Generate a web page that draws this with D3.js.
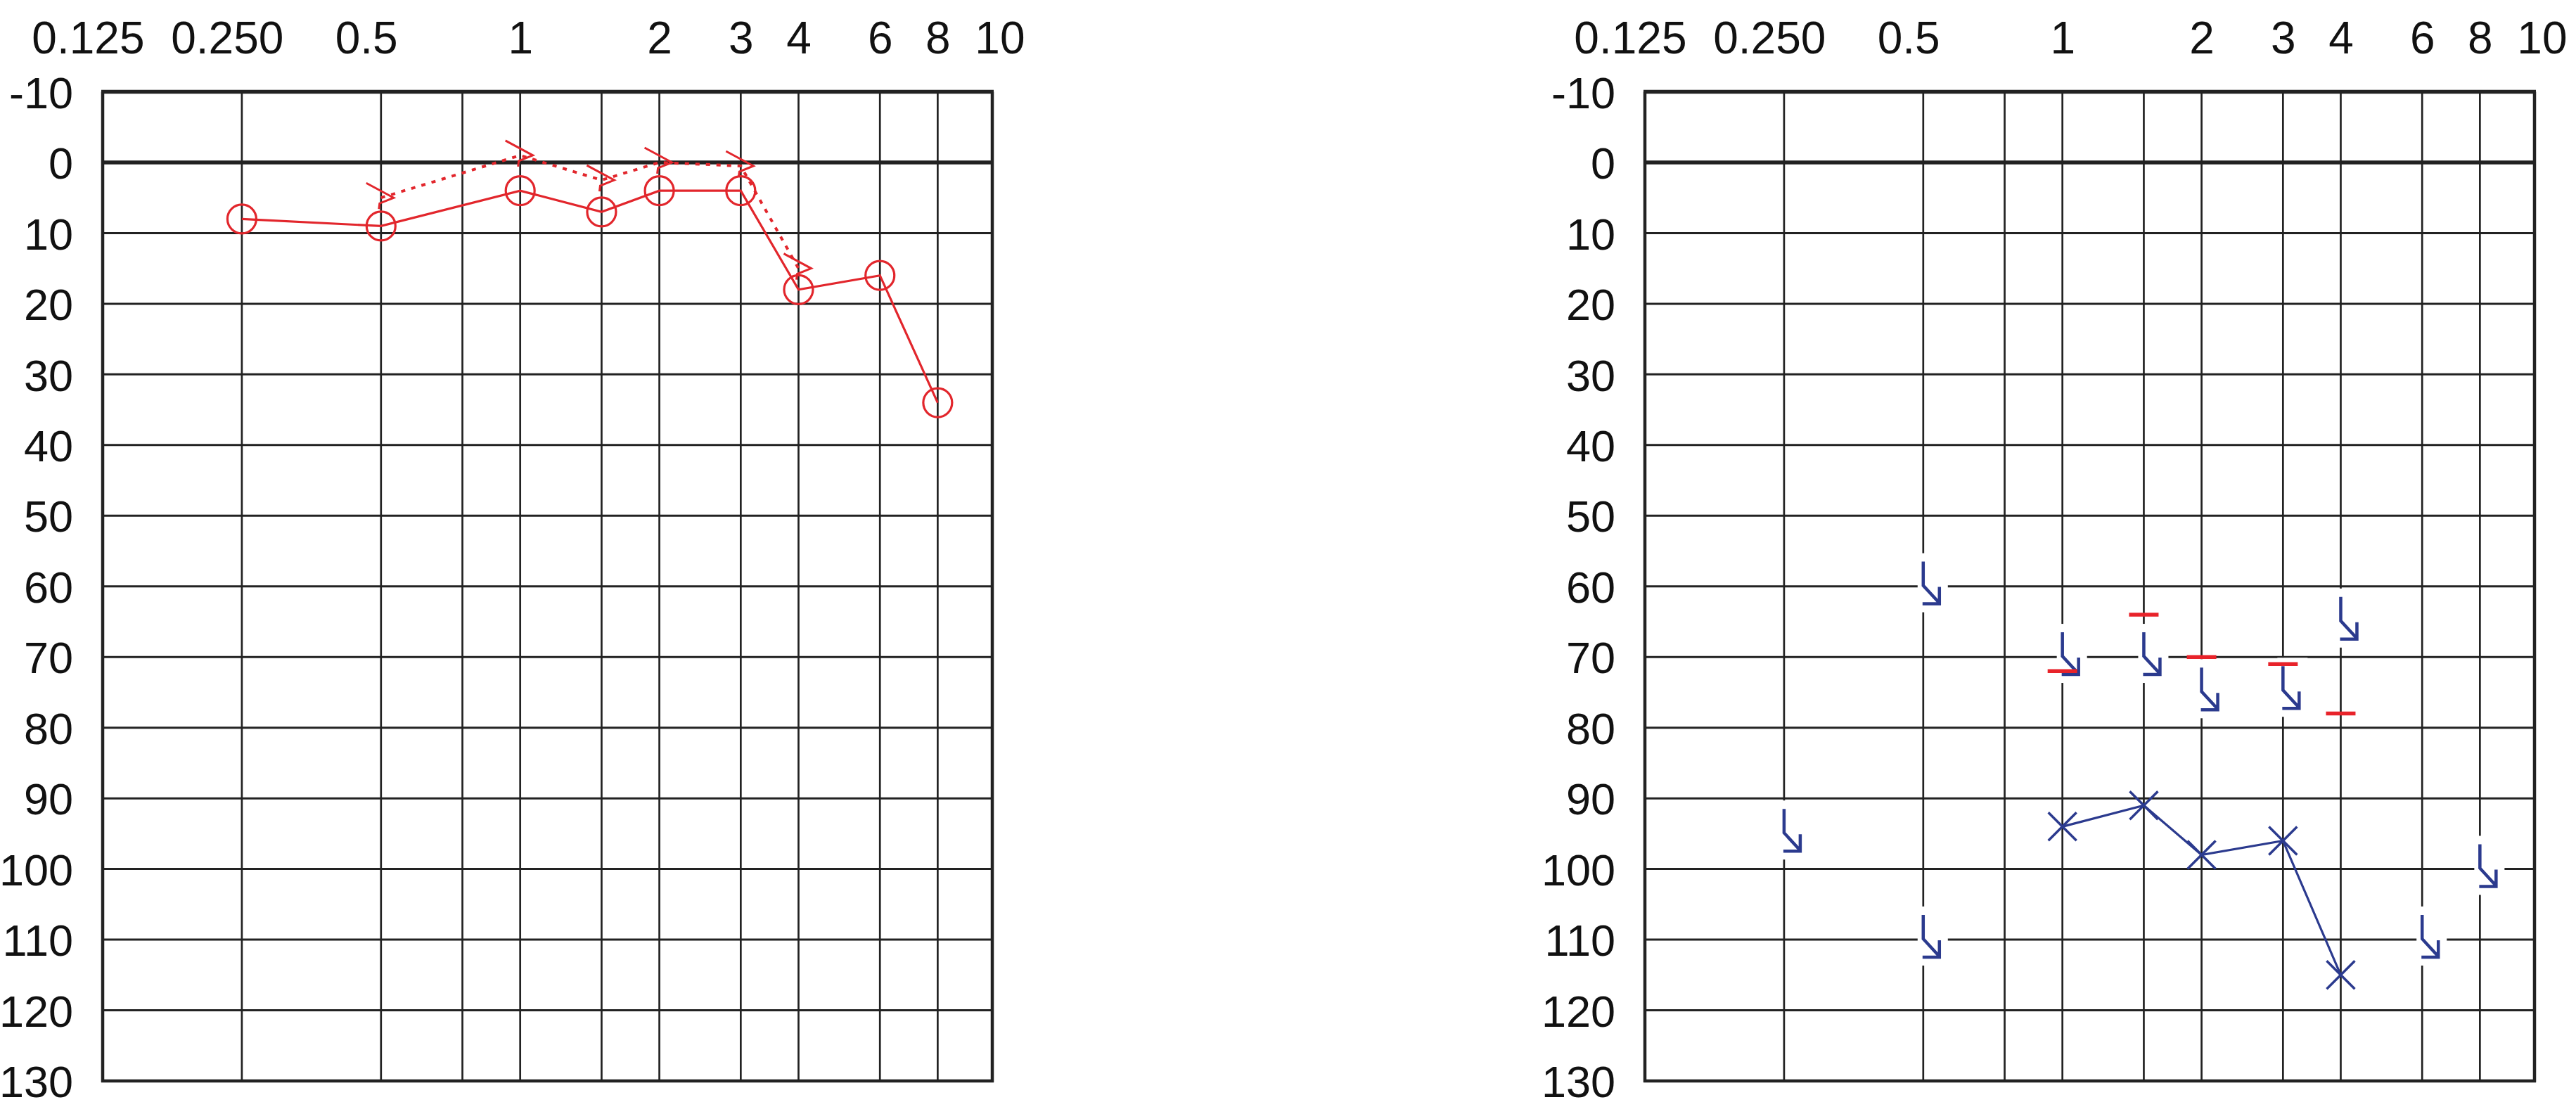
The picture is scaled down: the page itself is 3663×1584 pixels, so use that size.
<!DOCTYPE html>
<html>
<head>
<meta charset="utf-8">
<script src="https://cdn.jsdelivr.net/npm/d3@7"></script>
<style>
html, body { margin: 0; padding: 0; background: #ffffff; }
svg { display: block; }
</style>
</head>
<body>
<svg id="chart" width="3663" height="1584"></svg>
<script>
// ---------- axis data ----------
const frequencyTicks = [125, 250, 500, 1000, 2000, 3000, 4000, 6000, 8000, 10000];
const frequencyTickLabels = ["0.125", "0.250", "0.5", "1", "2", "3", "4", "6", "8", "10"];
const frequencyGridLines = [250, 500, 750, 1000, 1500, 2000, 3000, 4000, 6000, 8000];
const levelTicks = [-10, 0, 10, 20, 30, 40, 50, 60, 70, 80, 90, 100, 110, 120, 130];

// ---------- left panel (red) ----------
const redAirFreq = [250, 500, 1000, 1500, 2000, 3000, 4000, 6000, 8000];
const redAirDb   = [8, 9, 4, 7, 4, 4, 18, 16, 34];
const redBoneFreq = [500, 1000, 1500, 2000, 3000, 4000];
const redBoneDb   = [5, -1, 2.5, 0, 0.5, 15];

// ---------- right panel (blue + red masking marks) ----------
const blueAirFreq = [1000, 1500, 2000, 3000, 4000];
const blueAirDb   = [94, 91, 98, 96, 115];
const blueNoRespFreq = [250, 500, 500, 1000, 1500, 2000, 3000, 4000, 6000, 8000];
const blueNoRespDb   = [91.5, 56.5, 106.5, 66.5, 66.5, 71.5, 71.3, 61.5, 106.5, 96.5];
const redMarkFreq = [1000, 1500, 2000, 3000, 4000];
const redMarkDb   = [72, 64, 70, 71, 78];

// ---------- drawing ----------
const svg = d3.select("#chart");
const RED = "#e2262c";
const BLUE = "#2b3a8e";
const GRID = "#222222";
const FONT = "'Liberation Sans', Arial, Helvetica, sans-serif";

const y = d3.scaleLinear().domain([-10, 130]).range([130.5, 1537]);
const panelWidth = 1265;

function makePanel(left) {
  const x = d3.scaleLog().domain([125, 10500]).range([left, left + panelWidth]);
  const g = svg.append("g");
  const [x0, x1] = x.range();
  const [yTop, yBot] = y.range();

  // horizontal grid
  g.append("g").selectAll("line")
    .data(levelTicks.filter(d => d !== -10 && d !== 130))
    .join("line")
    .attr("x1", x0).attr("x2", x1)
    .attr("y1", d => y(d)).attr("y2", d => y(d))
    .attr("stroke", GRID)
    .attr("stroke-width", d => d === 0 ? 5.5 : 3);

  // vertical grid
  g.append("g").selectAll("line")
    .data(frequencyGridLines)
    .join("line")
    .attr("x1", d => x(d)).attr("x2", d => x(d))
    .attr("y1", yTop).attr("y2", yBot)
    .attr("stroke", GRID)
    .attr("stroke-width", 2.7);

  // frame
  g.append("line").attr("x1", x0 - 2).attr("x2", x1 + 2).attr("y1", yTop).attr("y2", yTop)
    .attr("stroke", GRID).attr("stroke-width", 5.5);
  g.append("line").attr("x1", x0 - 2).attr("x2", x1 + 2).attr("y1", yBot).attr("y2", yBot)
    .attr("stroke", GRID).attr("stroke-width", 4.5);
  g.append("line").attr("x1", x0).attr("x2", x0).attr("y1", yTop).attr("y2", yBot + 2)
    .attr("stroke", GRID).attr("stroke-width", 4.5);
  g.append("line").attr("x1", x1).attr("x2", x1).attr("y1", yTop).attr("y2", yBot + 2)
    .attr("stroke", GRID).attr("stroke-width", 4.5);

  // top axis labels (kHz)
  const top = g.append("g")
    .attr("transform", "translate(0,76)")
    .call(d3.axisTop(x).tickValues(frequencyTicks)
      .tickFormat((d, i) => frequencyTickLabels[i]).tickSize(0).tickPadding(0));
  top.select(".domain").remove();
  top.selectAll("text")
    .attr("font-family", FONT).attr("font-size", 64).attr("fill", "#111")
    .attr("dy", 0)
    .attr("dx", (d, i) => frequencyTickLabels[i].includes(".") ? "-0.33em"
                          : (d === 10000 ? "0.38em" : "0em"));

  // left axis labels (dB)
  const leftAxis = g.append("g")
    .attr("transform", `translate(${x0},0)`)
    .call(d3.axisLeft(y).tickValues(levelTicks)
      .tickFormat(d => String(d)).tickSize(0).tickPadding(42));
  leftAxis.select(".domain").remove();
  leftAxis.selectAll("text")
    .attr("font-family", FONT).attr("font-size", 63).attr("fill", "#111")
    .attr("dy", "0.36em");

  return { g, x };
}

// ===== Left panel =====
const L = makePanel(146);
{
  const { g, x } = L;
  const bone = redBoneFreq.map((f, i) => [x(f), y(redBoneDb[i])]);
  g.append("path")
    .attr("d", d3.line()(bone))
    .attr("fill", "none").attr("stroke", RED)
    .attr("stroke-width", 4).attr("stroke-dasharray", "6,9");
  g.append("g").selectAll("path")
    .data(bone).join("path")
    .attr("transform", d => `translate(${d[0]},${d[1]})`)
    .attr("d", "M-21,-21L18,0L-2,8L-3,16")
    .attr("fill", "none").attr("stroke", RED).attr("stroke-width", 3)
    .attr("stroke-linejoin", "miter");

  const air = redAirFreq.map((f, i) => [x(f), y(redAirDb[i])]);
  g.append("path")
    .attr("d", d3.line()(air))
    .attr("fill", "none").attr("stroke", RED).attr("stroke-width", 3.2);
  g.append("g").selectAll("circle")
    .data(air).join("circle")
    .attr("cx", d => d[0]).attr("cy", d => d[1]).attr("r", 20.5)
    .attr("fill", "none").attr("stroke", RED).attr("stroke-width", 3.2);
}

// ===== Right panel =====
const R = makePanel(2339);
{
  const { g, x } = R;
  const nr = blueNoRespFreq.map((f, i) => [x(f), y(blueNoRespDb[i])]);
  // white knock-out behind the no-response symbols
  g.append("g").selectAll("rect")
    .data(nr).join("rect")
    .attr("x", d => d[0] - 8).attr("y", d => d[1] - 12)
    .attr("width", 43).attr("height", 84)
    .attr("fill", "#ffffff");

  const air = blueAirFreq.map((f, i) => [x(f), y(blueAirDb[i])]);
  g.append("path")
    .attr("d", d3.line()(air))
    .attr("fill", "none").attr("stroke", BLUE).attr("stroke-width", 3.2);
  g.append("g").selectAll("path")
    .data(air).join("path")
    .attr("transform", d => `translate(${d[0]},${d[1]})`)
    .attr("d", "M-20,-20L20,20M-20,20L20,-20")
    .attr("fill", "none").attr("stroke", BLUE).attr("stroke-width", 3.5);

  g.append("g").selectAll("path")
    .data(nr).join("path")
    .attr("transform", d => `translate(${d[0]},${d[1]})`)
    .attr("d", "M0,0V34L23,59M23,36V60H-1")
    .attr("fill", "none").attr("stroke", BLUE).attr("stroke-width", 4.5)
    .attr("stroke-linejoin", "miter");

  const marks = redMarkFreq.map((f, i) => [x(f), y(redMarkDb[i])]);
  g.append("g").selectAll("line")
    .data(marks).join("line")
    .attr("x1", d => d[0] - 21).attr("x2", d => d[0] + 21)
    .attr("y1", d => d[1]).attr("y2", d => d[1])
    .attr("stroke", "#e8232a").attr("stroke-width", 5.5);
}
</script>
</body>
</html>
